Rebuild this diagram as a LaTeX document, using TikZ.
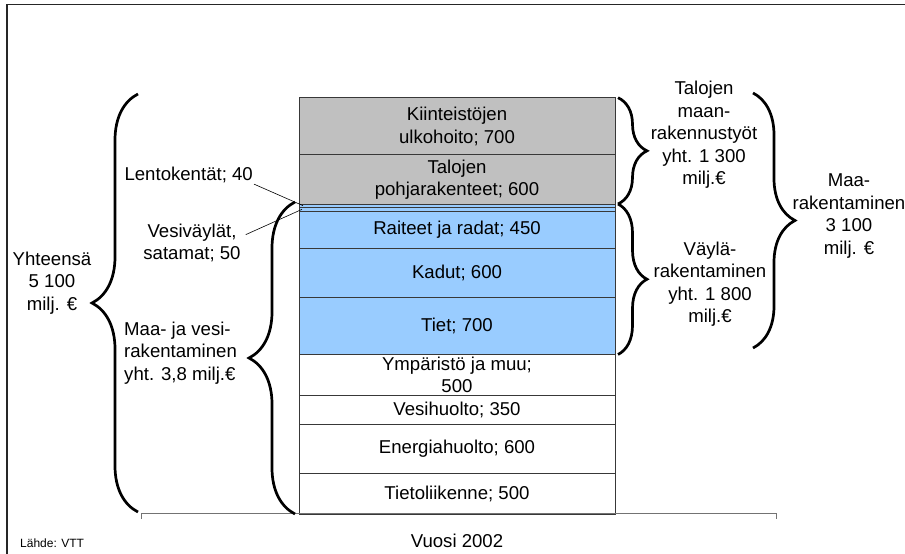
\documentclass[tikz,border=0pt]{standalone}
\usepackage{fontspec}
\setmainfont{Liberation Sans}
\usetikzlibrary{decorations.pathreplacing}

\definecolor{segGray}{HTML}{C0C0C0}
\definecolor{segBlue}{HTML}{99CCFF}
\definecolor{edge}{HTML}{383838}

\begin{document}
\begin{tikzpicture}[x=1pt,y=1pt,
  lbl/.style={font=\fontsize{18.6}{22.5}\selectfont, align=center, inner sep=1pt},
  seg/.style={lbl, draw=edge, line width=0.9pt, inner sep=0pt, outer sep=0pt,
    anchor=south west, minimum width=316pt, minimum height=#1},
  brc/.style={decorate, decoration={brace, amplitude=#1}, line width=2.7pt},
  lead/.style={line width=0.6pt}]
  \useasboundingbox (0,0) rectangle (905,554);
  \draw[line width=1.4pt, black!85] (7,0) -- (7,549.5) -- (905,549.5);

  % pylvas alhaalta ylos
  \node[seg=40.9, fill=white] (tieto) at (299,40) {Tietoliikenne; 500};
  \node[seg=49.1, fill=white] (energia) at (tieto.north west) {Energiahuolto; 600};
  \node[seg=28.6, fill=white] (vesih) at (energia.north west) {Vesihuolto; 350};
  \node[seg=40.9, fill=white] (ymp) at (vesih.north west) {Ympäristö ja muu;\\500};
  \node[seg=57.2, fill=segBlue] (tiet) at (ymp.north west) {Tiet; 700};
  \node[seg=49.1, fill=segBlue] (kadut) at (tiet.north west) {Kadut; 600};
  \node[seg=36.8, fill=segBlue] (raiteet) at (kadut.north west) {Raiteet ja radat; 450};
  \node[seg=4.1, fill=segBlue] (vesiv) at (raiteet.north west) {};
  \node[seg=3.3, fill=segBlue] (lento) at (vesiv.north west) {};
  \node[seg=49.1, fill=segGray] (pohja) at (lento.north west) {Talojen\\pohjarakenteet; 600};
  \node[seg=57.2, fill=segGray] (ulko) at (pohja.north west) {Kiinteistöjen\\ulkohoito; 700};

  \draw[black!55, line width=1pt] (141,35) -- (141,40) -- (776,40) -- (776,35);

  % aaltosulkeet
  \draw[brc=46] (138,42) -- (138,460);
  \draw[brc=46] (295,40) -- (295,352);
  \draw[brc=29] ([xshift=3pt]ulko.north east) -- ([xshift=3pt]pohja.south east);
  \draw[brc=29] ([xshift=3pt]lento.north east) -- ([xshift=3pt]tiet.south east);
  \draw[brc=42] (753,461) -- (753,206);

  \node[lbl] (yht) at (52,271) {Yhteensä\\5 100\\milj. €};
  \node[lbl, anchor=east] (lentoL) at (254,379) {Lentokentät; 40};
  \node[lbl] (vesiL) at (192,311) {Vesiväylät,\\satamat; 50};
  \node[lbl, align=left, anchor=west] (maavesi) at (123,201) {Maa- ja vesi-\\rakentaminen\\yht. 3,8 milj.€};
  \node[lbl] (talojen) at (704,419) {Talojen\\maan-\\rakennustyöt\\yht. 1 300\\milj.€};
  \node[lbl] (vayla) at (710,270) {Väylä-\\rakentaminen\\yht. 1 800\\milj.€};
  \node[lbl] (maarak) at (849,338) {Maa-\\rakentaminen\\3 100\\milj. €};

  \draw[lead] (lentoL.south east) -- ([xshift=4pt]lento.west);
  \draw[lead] ([shift={(4,-12)}]vesiL.north east) -- ([xshift=3pt]vesiv.west);

  \node[lbl] (vuosi) at (457,13) {Vuosi 2002};
  \node[font=\fontsize{12}{14}\selectfont, anchor=west, inner sep=0pt] (lahde) at (20,11) {Lähde: VTT};
\end{tikzpicture}
\end{document}
